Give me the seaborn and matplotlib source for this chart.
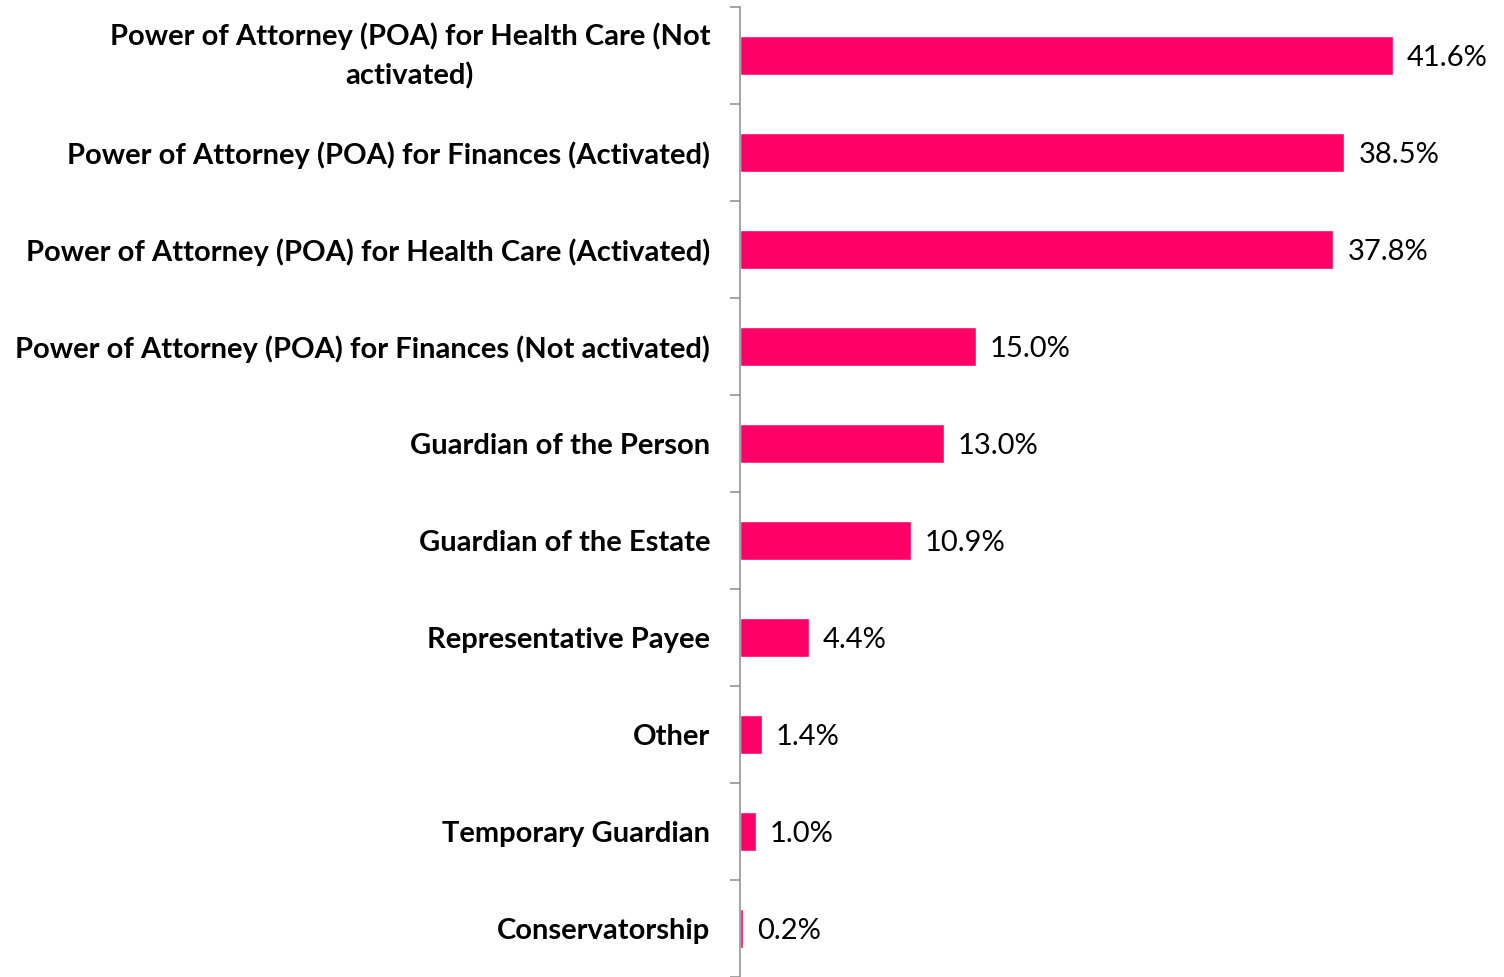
import numpy as np
import matplotlib
matplotlib.use("Agg")
import matplotlib.pyplot as plt
import seaborn as sns

# data
categories = [
    "Power of Attorney (POA) for Health Care (Not\nactivated)",
    "Power of Attorney (POA) for Finances (Activated)",
    "Power of Attorney (POA) for Health Care (Activated)",
    "Power of Attorney (POA) for Finances (Not activated)",
    "Guardian of the Person",
    "Guardian of the Estate",
    "Representative Payee",
    "Other",
    "Temporary Guardian",
    "Conservatorship",
]
values = [41.6, 38.5, 37.8, 15.0, 13.0, 10.9, 4.4, 1.4, 1.0, 0.2]

sns.set_style("white")
plt.rcParams['font.family'] = ['Lato', 'DejaVu Sans']

fig = plt.figure(figsize=(15.04, 9.77), dpi=100)
ax = fig.add_axes([740 / 1504, 0, 1 - 740 / 1504, 1 - 7 / 977])

sns.barplot(x=values, y=categories, color="#FF0066", saturation=1,
            width=0.4, orient="h", ax=ax)

# percentage labels at bar ends
texts = ax.bar_label(ax.containers[0], labels=[f"{v:.1f}%" for v in values],
                     padding=10, fontsize=21, color="black")
for t in texts:
    t.set_va("center_baseline")

ax.set_xlim(0, (1504 - 740) / 15.7)
ax.set_ylim(9.5, -0.5)
ax.set_xlabel("")
ax.set_ylabel("")
ax.set_xticks([])

# category labels, tick marks on the boundaries
ax.set_yticks(range(len(categories)))
ax.set_yticklabels(categories, fontsize=21, fontweight="bold", color="black",
                   multialignment="center", linespacing=1.55)
ax.get_yticklabels()[0].set_va("center")
ax.set_yticks(np.arange(-0.5, len(categories), 1), minor=True)
ax.tick_params(axis="y", which="major", length=0, pad=21.5)
ax.tick_params(axis="y", which="minor", length=7.2, width=1.1, color="#8c8c8c", left=True)

for side in ["top", "right", "bottom"]:
    ax.spines[side].set_visible(False)
ax.spines["left"].set_color("#8c8c8c")
ax.spines["left"].set_linewidth(1.1)

plt.savefig("out.png", dpi=100)
